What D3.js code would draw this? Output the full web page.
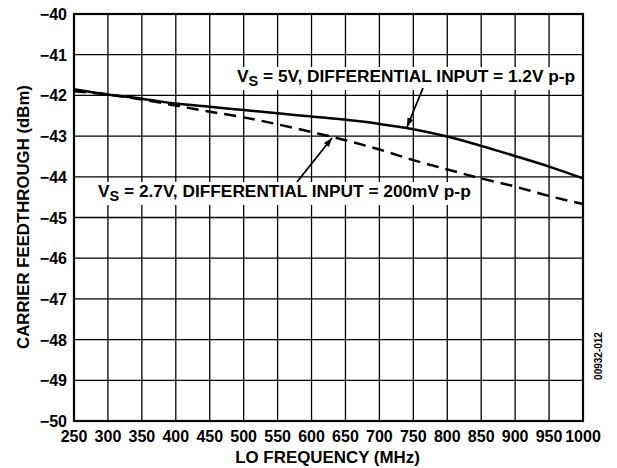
<!DOCTYPE html>
<html>
<head>
<meta charset="utf-8">
<script src="https://cdn.jsdelivr.net/npm/d3@7"></script>
<style>
  body { margin: 0; background: #fff; }
  text { font-family: "Liberation Sans", Arial, sans-serif; font-weight: bold; fill: #000; }
</style>
</head>
<body>
<div id="chart"></div>
<script>
const width = 617
const height = 468
const margin = { top: 14, right: 34, bottom: 47, left: 74 }

// LO frequency (MHz)
const freq = [250, 300, 350, 400, 450, 500, 550, 600, 650, 700, 750, 800, 850, 900, 950, 1000]
// carrier feedthrough (dBm)
const vs5 = [-41.85, -41.98, -42.08, -42.2, -42.28, -42.36, -42.44, -42.52, -42.6, -42.7, -42.83, -43.01, -43.24, -43.49, -43.75, -44.04]
const vs27 = [-41.9, -41.98, -42.1, -42.25, -42.4, -42.54, -42.71, -42.9, -43.1, -43.33, -43.59, -43.82, -44.04, -44.24, -44.47, -44.67]

const xTicks = d3.range(250, 1001, 50)
const yTicks = d3.range(-50, -39, 1)

const svg = d3.select('#chart')
  .append('svg')
  .attr('width', width)
  .attr('height', height)

const x = d3.scaleLinear().domain([250, 1000]).range([margin.left, width - margin.right])
const y = d3.scaleLinear().domain([-50, -40]).range([height - margin.bottom, margin.top])

// grid
svg.append('g')
  .selectAll('line')
  .data(xTicks)
  .join('line')
  .attr('x1', d => x(d)).attr('x2', d => x(d))
  .attr('y1', y(-50)).attr('y2', y(-40))
  .attr('stroke', '#000').attr('stroke-width', 1.3)

svg.append('g')
  .selectAll('line')
  .data(yTicks)
  .join('line')
  .attr('x1', x(250)).attr('x2', x(1000))
  .attr('y1', d => y(d)).attr('y2', d => y(d))
  .attr('stroke', '#000').attr('stroke-width', 1.3)

svg.append('rect')
  .attr('x', x(250)).attr('y', y(-40))
  .attr('width', x(1000) - x(250)).attr('height', y(-50) - y(-40))
  .attr('fill', 'none').attr('stroke', '#000').attr('stroke-width', 2.2)

// tick labels
svg.append('g')
  .selectAll('text')
  .data(yTicks)
  .join('text')
  .attr('x', margin.left - 7)
  .attr('y', d => y(d) + 6)
  .attr('text-anchor', 'end')
  .attr('font-size', 16)
  .text(d => '\u2212' + Math.abs(d))

svg.append('g')
  .selectAll('text')
  .data(xTicks)
  .join('text')
  .attr('x', d => x(d))
  .attr('y', y(-50) + 21)
  .attr('text-anchor', 'middle')
  .attr('font-size', 16)
  .text(d => d)

svg.append('text')
  .attr('x', (x(250) + x(1000)) / 2 - 1)
  .attr('y', 463)
  .attr('text-anchor', 'middle')
  .attr('font-size', 16.9)
  .text('LO FREQUENCY (MHz)')

svg.append('text')
  .attr('transform', `translate(29, 217) rotate(-90)`)
  .attr('text-anchor', 'middle')
  .attr('font-size', 16.8)
  .text('CARRIER FEEDTHROUGH (dBm)')

svg.append('text')
  .attr('transform', `translate(602, 356) rotate(-90)`)
  .attr('text-anchor', 'middle')
  .attr('font-size', 10)
  .attr('font-weight', 'normal')
  .text('00932-012')

// curves
const line = d3.line().x((d, i) => x(freq[i])).y(d => y(d)).curve(d3.curveMonotoneX)

svg.append('path')
  .attr('d', line(vs5))
  .attr('fill', 'none').attr('stroke', '#000').attr('stroke-width', 2.5)

svg.append('path')
  .attr('d', line(vs27))
  .attr('fill', 'none').attr('stroke', '#000').attr('stroke-width', 2.5)
  .attr('stroke-dasharray', '12,7')

// annotations
svg.append('defs').append('marker')
  .attr('id', 'arr')
  .attr('viewBox', '0 0 10 10')
  .attr('refX', 10).attr('refY', 5)
  .attr('markerWidth', 5).attr('markerHeight', 5)
  .attr('markerUnits', 'strokeWidth')
  .attr('orient', 'auto')
  .append('path').attr('d', 'M0,1.5L10,5L0,8.5z').attr('fill', '#000')

function label (tx, ty, main, rest) {
  const g = svg.append('g')
  const bg = g.append('rect').attr('fill', '#fff')
  const t = g.append('text').attr('x', tx).attr('y', ty).attr('font-size', 17.3)
  t.append('tspan').text(main)
  t.append('tspan').attr('dy', 4).attr('font-size', 14.5).text('S')
  t.append('tspan').attr('dy', -4).text(rest)
  const b = t.node().getBBox()
  bg.attr('x', b.x - 3).attr('y', b.y + 1).attr('width', b.width + 6).attr('height', b.height)
}

label(237, 82, 'V', ' = 5V, DIFFERENTIAL INPUT = 1.2V p-p')
label(98, 197, 'V', ' = 2.7V, DIFFERENTIAL INPUT = 200mV p-p')

svg.append('line')
  .attr('x1', 423).attr('y1', 88).attr('x2', 407).attr('y2', 127)
  .attr('stroke', '#000').attr('stroke-width', 1.8).attr('marker-end', 'url(#arr)')

svg.append('line')
  .attr('x1', 297).attr('y1', 182).attr('x2', 332).attr('y2', 138)
  .attr('stroke', '#000').attr('stroke-width', 1.8).attr('marker-end', 'url(#arr)')
</script>
</body>
</html>
